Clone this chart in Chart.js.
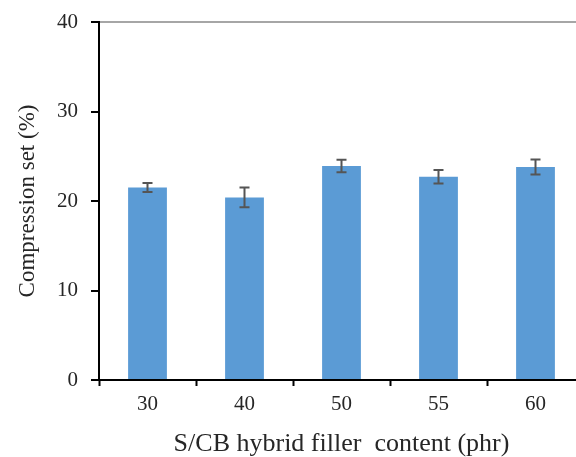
<!DOCTYPE html>
<html>
<head>
<meta charset="utf-8">
<script src="https://cdn.jsdelivr.net/npm/chart.js@4/dist/chart.umd.min.js"></script>
<style>
  html, body { margin: 0; padding: 0; background: #fff; overflow: hidden; }
  #wrap { position: relative; width: 590px; height: 457px; }
</style>
</head>
<body>
<div id="wrap"><canvas id="chart"></canvas></div>
<script>
const fillerContent = ['30', '40', '50', '55', '60']
const compressionSet = [21.5, 20.4, 23.9, 22.7, 23.8]
const errorValues = [0.5, 1.1, 0.7, 0.75, 0.85]
const yTicks = [0, 10, 20, 30, 40]

const serif = "'Liberation Serif', 'Times New Roman', serif"
const textColor = '#262626'

// error bars drawn on top of each bar, from the same scale
const errorBarPlugin = {
    id: 'errorBars',
    afterDatasetsDraw(chart) {
        const ctx = chart.ctx
        const yScale = chart.scales.y
        const meta = chart.getDatasetMeta(0)
        ctx.save()
        ctx.strokeStyle = '#555555'
        ctx.lineWidth = 2
        meta.data.forEach((bar, i) => {
            const v = compressionSet[i]
            const e = errorValues[i]
            const yTop = yScale.getPixelForValue(v + e)
            const yBot = yScale.getPixelForValue(v - e)
            const x = bar.x
            ctx.beginPath()
            ctx.moveTo(x, yTop)
            ctx.lineTo(x, yBot)
            ctx.moveTo(x - 5, yTop)
            ctx.lineTo(x + 5, yTop)
            ctx.moveTo(x - 5, yBot)
            ctx.lineTo(x + 5, yBot)
            ctx.stroke()
        })
        ctx.restore()
    }
}

new Chart(document.getElementById('chart').getContext('2d'), {
    type: 'bar',
    data: {
        labels: fillerContent,
        datasets: [{
            data: compressionSet,
            backgroundColor: '#5b9bd5',
            borderWidth: 0,
            barPercentage: 0.4,
            categoryPercentage: 1.0
        }]
    },
    options: {
        responsive: true,
        maintainAspectRatio: false,
        animation: false,
        layout: { padding: { top: 22, right: 6, left: 0, bottom: 0 } },
        plugins: {
            legend: { display: false },
            tooltip: { enabled: false }
        },
        scales: {
            x: {
                offset: true,
                grid: {
                    offset: true,
                    drawOnChartArea: false,
                    drawTicks: true,
                    tickLength: 6,
                    tickColor: '#000',
                    tickWidth: 2
                },
                border: { color: '#000', width: 2 },
                ticks: {
                    color: textColor,
                    padding: 6,
                    font: { family: serif, size: 21 }
                },
                title: {
                    display: true,
                    text: 'S/CB hybrid filler  content (phr)',
                    color: textColor,
                    font: { family: serif, size: 26, lineHeight: 1 },
                    padding: { top: 0, bottom: 0 }
                },
                afterFit(scale) { scale.height = 77 }
            },
            y: {
                min: 0,
                max: 40,
                afterBuildTicks(scale) { scale.ticks = yTicks.map(v => ({ value: v })) },
                grid: {
                    drawOnChartArea: true,
                    color: c => (c.tick && c.tick.value === 40 ? '#a6a6a6' : 'rgba(0,0,0,0)'),
                    lineWidth: 2,
                    drawTicks: true,
                    tickLength: 8,
                    tickColor: '#000',
                    tickWidth: 2
                },
                border: { color: '#000', width: 2 },
                ticks: {
                    color: textColor,
                    padding: 13,
                    font: { family: serif, size: 21 }
                },
                title: {
                    display: true,
                    text: 'Compression set (%)',
                    color: textColor,
                    font: { family: serif, size: 23, lineHeight: 1.2 },
                    padding: { top: 14, bottom: 0 }
                },
                afterFit(scale) {
                    scale.width = 99
                    // the top edge comes from the layout padding alone
                    scale.paddingTop = 0
                    scale.paddingBottom = 0
                }
            }
        }
    },
    plugins: [errorBarPlugin]
});
</script>
</body>
</html>
